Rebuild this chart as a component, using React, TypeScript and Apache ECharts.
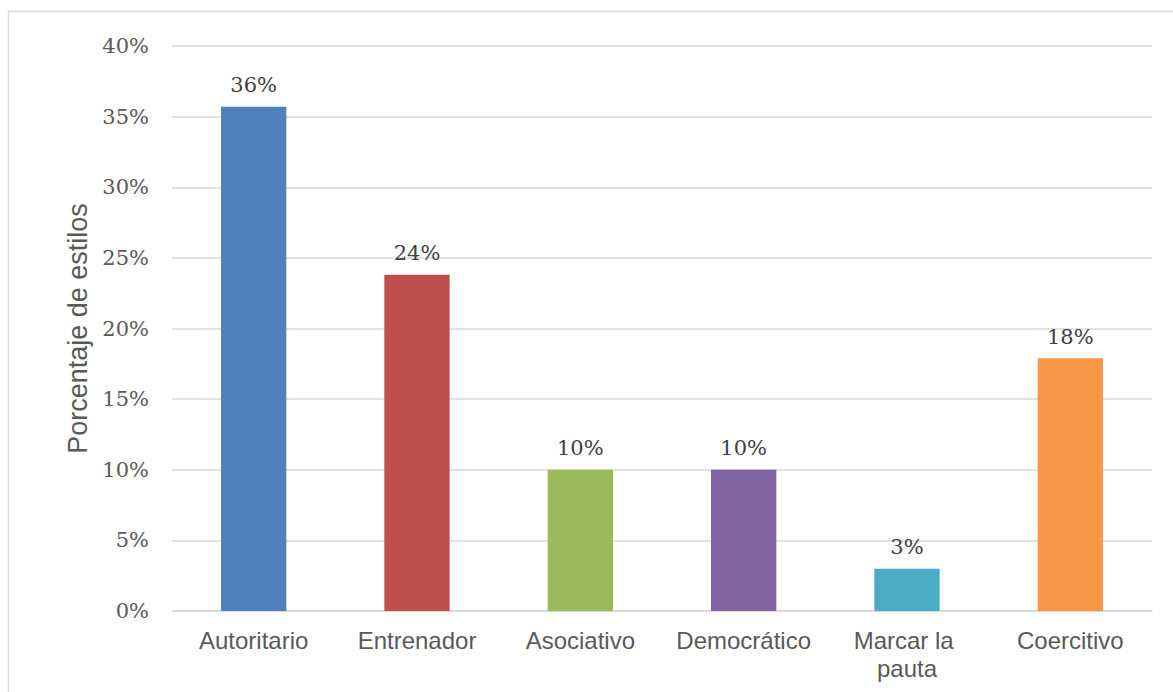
import React, { useEffect, useRef } from "react";
import * as echarts from "echarts";

const categories = ["Autoritario", "Entrenador", "Asociativo", "Democrático", "Marcar la pauta", "Coercitivo"];
const values = [35.7, 23.8, 10, 10, 3, 17.9];
const colors = ["#4F81BD", "#C0504D", "#9BBB59", "#8064A2", "#4BACC6", "#F79646"];
const yTitle = "Porcentaje de estilos";

export default function App() {
  const ref = useRef<HTMLDivElement>(null);
  useEffect(() => {
    if (!ref.current) return;
    const chart = echarts.init(ref.current, undefined, { renderer: "svg" });
    chart.setOption({
      animation: false,
      backgroundColor: "#ffffff",
      graphic: [
        {
          type: "rect",
          shape: { x: 8.5, y: 11.5, width: 1300, height: 800 },
          style: { fill: "none", stroke: "#D9D9D9", lineWidth: 1.5 },
          silent: true,
        },
      ],
      grid: { left: 172, right: 21, top: 46, bottom: 81, containLabel: false },
      xAxis: {
        type: "category",
        data: categories,
        axisLine: { show: true, lineStyle: { color: "#D9D9D9", width: 1.5 } },
        axisTick: { show: false },
        axisLabel: {
          color: "#595959",
          fontFamily: "Liberation Sans, Arial, sans-serif",
          fontSize: 24,
          margin: 15,
          width: 150,
          overflow: "break",
          lineHeight: 28,
          interval: 0,
        },
      },
      yAxis: {
        type: "value",
        min: 0,
        max: 40,
        interval: 5,
        name: yTitle,
        nameLocation: "middle",
        nameGap: 80,
        nameTextStyle: {
          color: "#595959",
          fontFamily: "Liberation Sans, Arial, sans-serif",
          fontSize: 27,
        },
        axisLine: { show: false },
        axisTick: { show: false },
        splitLine: { lineStyle: { color: "#D9D9D9", width: 1.5 } },
        axisLabel: {
          formatter: "{value}%",
          color: "#595959",
          fontFamily: "DejaVu Serif, serif",
          fontSize: 21,
          margin: 23,
        },
      },
      series: [
        {
          type: "bar",
          barWidth: "40%",
          data: values.map((v, i) => ({ value: v, itemStyle: { color: colors[i] } })),
          label: {
            show: true,
            position: "top",
            distance: 11,
            formatter: (p: any) => Math.round(p.value) + "%",
            color: "#404040",
            fontFamily: "DejaVu Serif, serif",
            fontSize: 21,
          },
        },
      ],
    });
    return () => chart.dispose();
  }, []);
  return (
    <div
      ref={ref}
      style={{ position: "fixed", left: 0, top: 0, width: 1173, height: 692 }}
    />
  );
}
